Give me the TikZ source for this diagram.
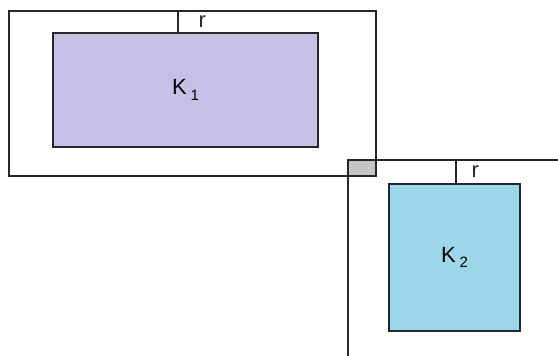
\documentclass[tikz,border=0pt]{standalone}
\usepackage{fontspec}
\setmainfont{Liberation Sans}
\definecolor{lilac}{HTML}{C6BFE6}
\definecolor{skyblue}{HTML}{9BD7E8}
\definecolor{cornergray}{HTML}{C4C4C4}
\definecolor{edge}{HTML}{262626}
\newcommand{\setname}[1]{K\,\raisebox{-0.45ex}{\fontsize{15}{18}\selectfont #1}}
\begin{document}
\begin{tikzpicture}[x=1pt, y=-1pt, line width=1.1pt, draw=edge,
  body/.style={draw=edge, line width=1.3pt, inner sep=0pt, font=\fontsize{22}{26}\selectfont},
  lbl/.style={font=\fontsize{22}{26}\selectfont, inner sep=0pt}]

\useasboundingbox (0,0) rectangle (558,356);

% first set with its margin
\draw[edge] (9,11) rectangle (376,176);
\node[body, fill=lilac, minimum width=265pt, minimum height=114pt] at (185.5,90) (K1){\setname{1}};

% second set, margin runs off the page
\draw[edge, fill=cornergray] (348,160) rectangle (376,176);
\draw[edge] (348,356) -- (348,160) -- (558,160);
\node[body, fill=skyblue, minimum width=131pt, minimum height=147pt] at (454.5,257.5) (K2){\setname{2}};

% the distances r
\coordinate (top1) at (178,11);
\coordinate (top2) at (456,160);
\draw[edge] (top1) -- (top1 |- K1.north) node [lbl, midway, right=20pt]{r};
\draw[edge] (top2) -- (top2 |- K2.north) node [lbl, midway, right=15pt]{r};

\end{tikzpicture}
\end{document}
